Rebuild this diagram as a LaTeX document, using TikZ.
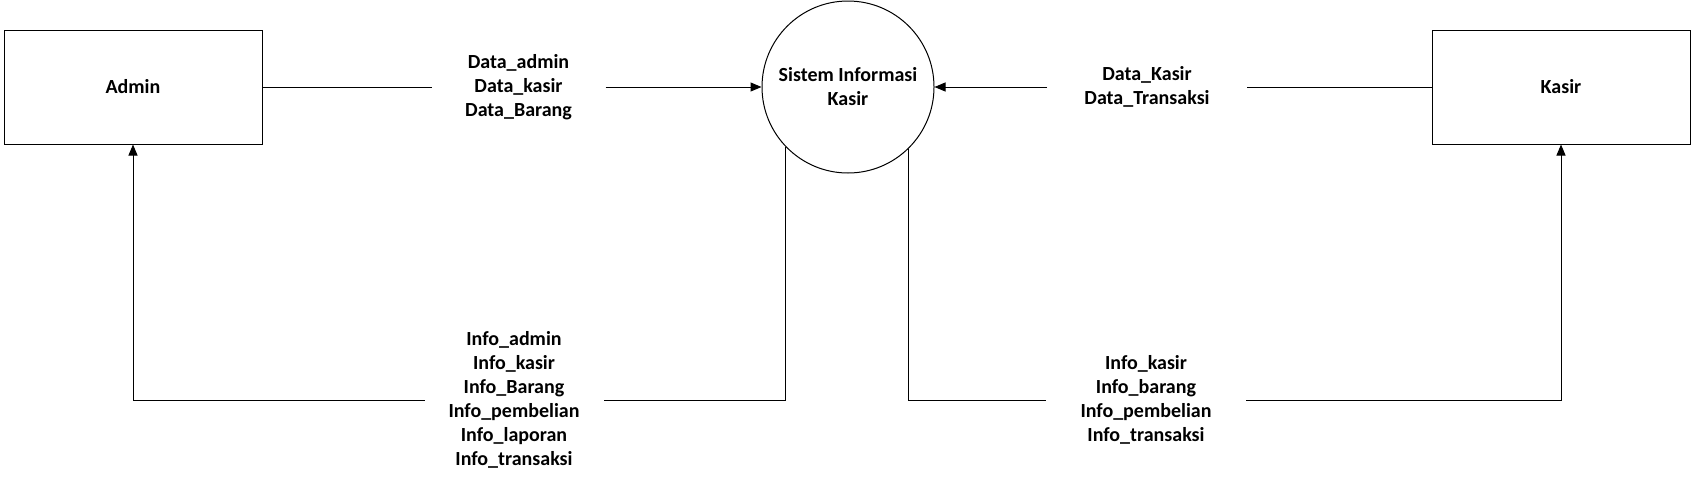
\documentclass[tikz,border=0pt]{standalone}
\usepackage{fontspec}
\setmainfont{Carlito}
\usetikzlibrary{arrows.meta}

\begin{document}
\begin{tikzpicture}[
  x=1pt, y=-1pt,
  line width=1pt,
  every node/.style={font=\fontsize{20}{24}\selectfont\bfseries},
  ent/.style={draw, minimum width=258pt, minimum height=114pt, inner sep=0pt},
  proc/.style={draw, circle, minimum size=172pt, inner sep=0pt, align=center},
  flow/.style={align=center, inner sep=0pt},
  arr/.style={-{Triangle[length=11pt,width=9pt]}},
]

\useasboundingbox (0,0) rectangle (1693,488);

\node [ent] (admin) at (133,87) {Admin};
\node [ent] (kasir) at (1561,87) {Kasir};
\node [proc] (sistem) at (848,87) {Sistem Informasi\\Kasir};

\node [flow, minimum width=173pt] (dataAdmin) at (518.5,87) {Data\_admin\\Data\_kasir\\Data\_Barang};
\node [flow, minimum width=199pt] (dataKasir) at (1147,87) {Data\_Kasir\\Data\_Transaksi};
\node [flow, minimum width=178pt] (infoAdmin) at (514,400) {Info\_admin\\Info\_kasir\\Info\_Barang\\Info\_pembelian\\Info\_laporan\\Info\_transaksi};
\node [flow, minimum width=199pt] (infoKasir) at (1146,400) {Info\_kasir\\Info\_barang\\Info\_pembelian\\Info\_transaksi};

\draw (admin.east) -- (dataAdmin.west);
\draw [arr] (dataAdmin.east) -- (sistem.west);
\draw (kasir.west) -- (dataKasir.east);
\draw [arr] (dataKasir.west) -- (sistem.east);

\draw (sistem.-136) |- (infoAdmin.east);
\draw [arr] (infoAdmin.west) -| (admin.south);
\draw (sistem.-46.7) |- (infoKasir.west);
\draw [arr] (infoKasir.east) -| (kasir.south);

\end{tikzpicture}
\end{document}
